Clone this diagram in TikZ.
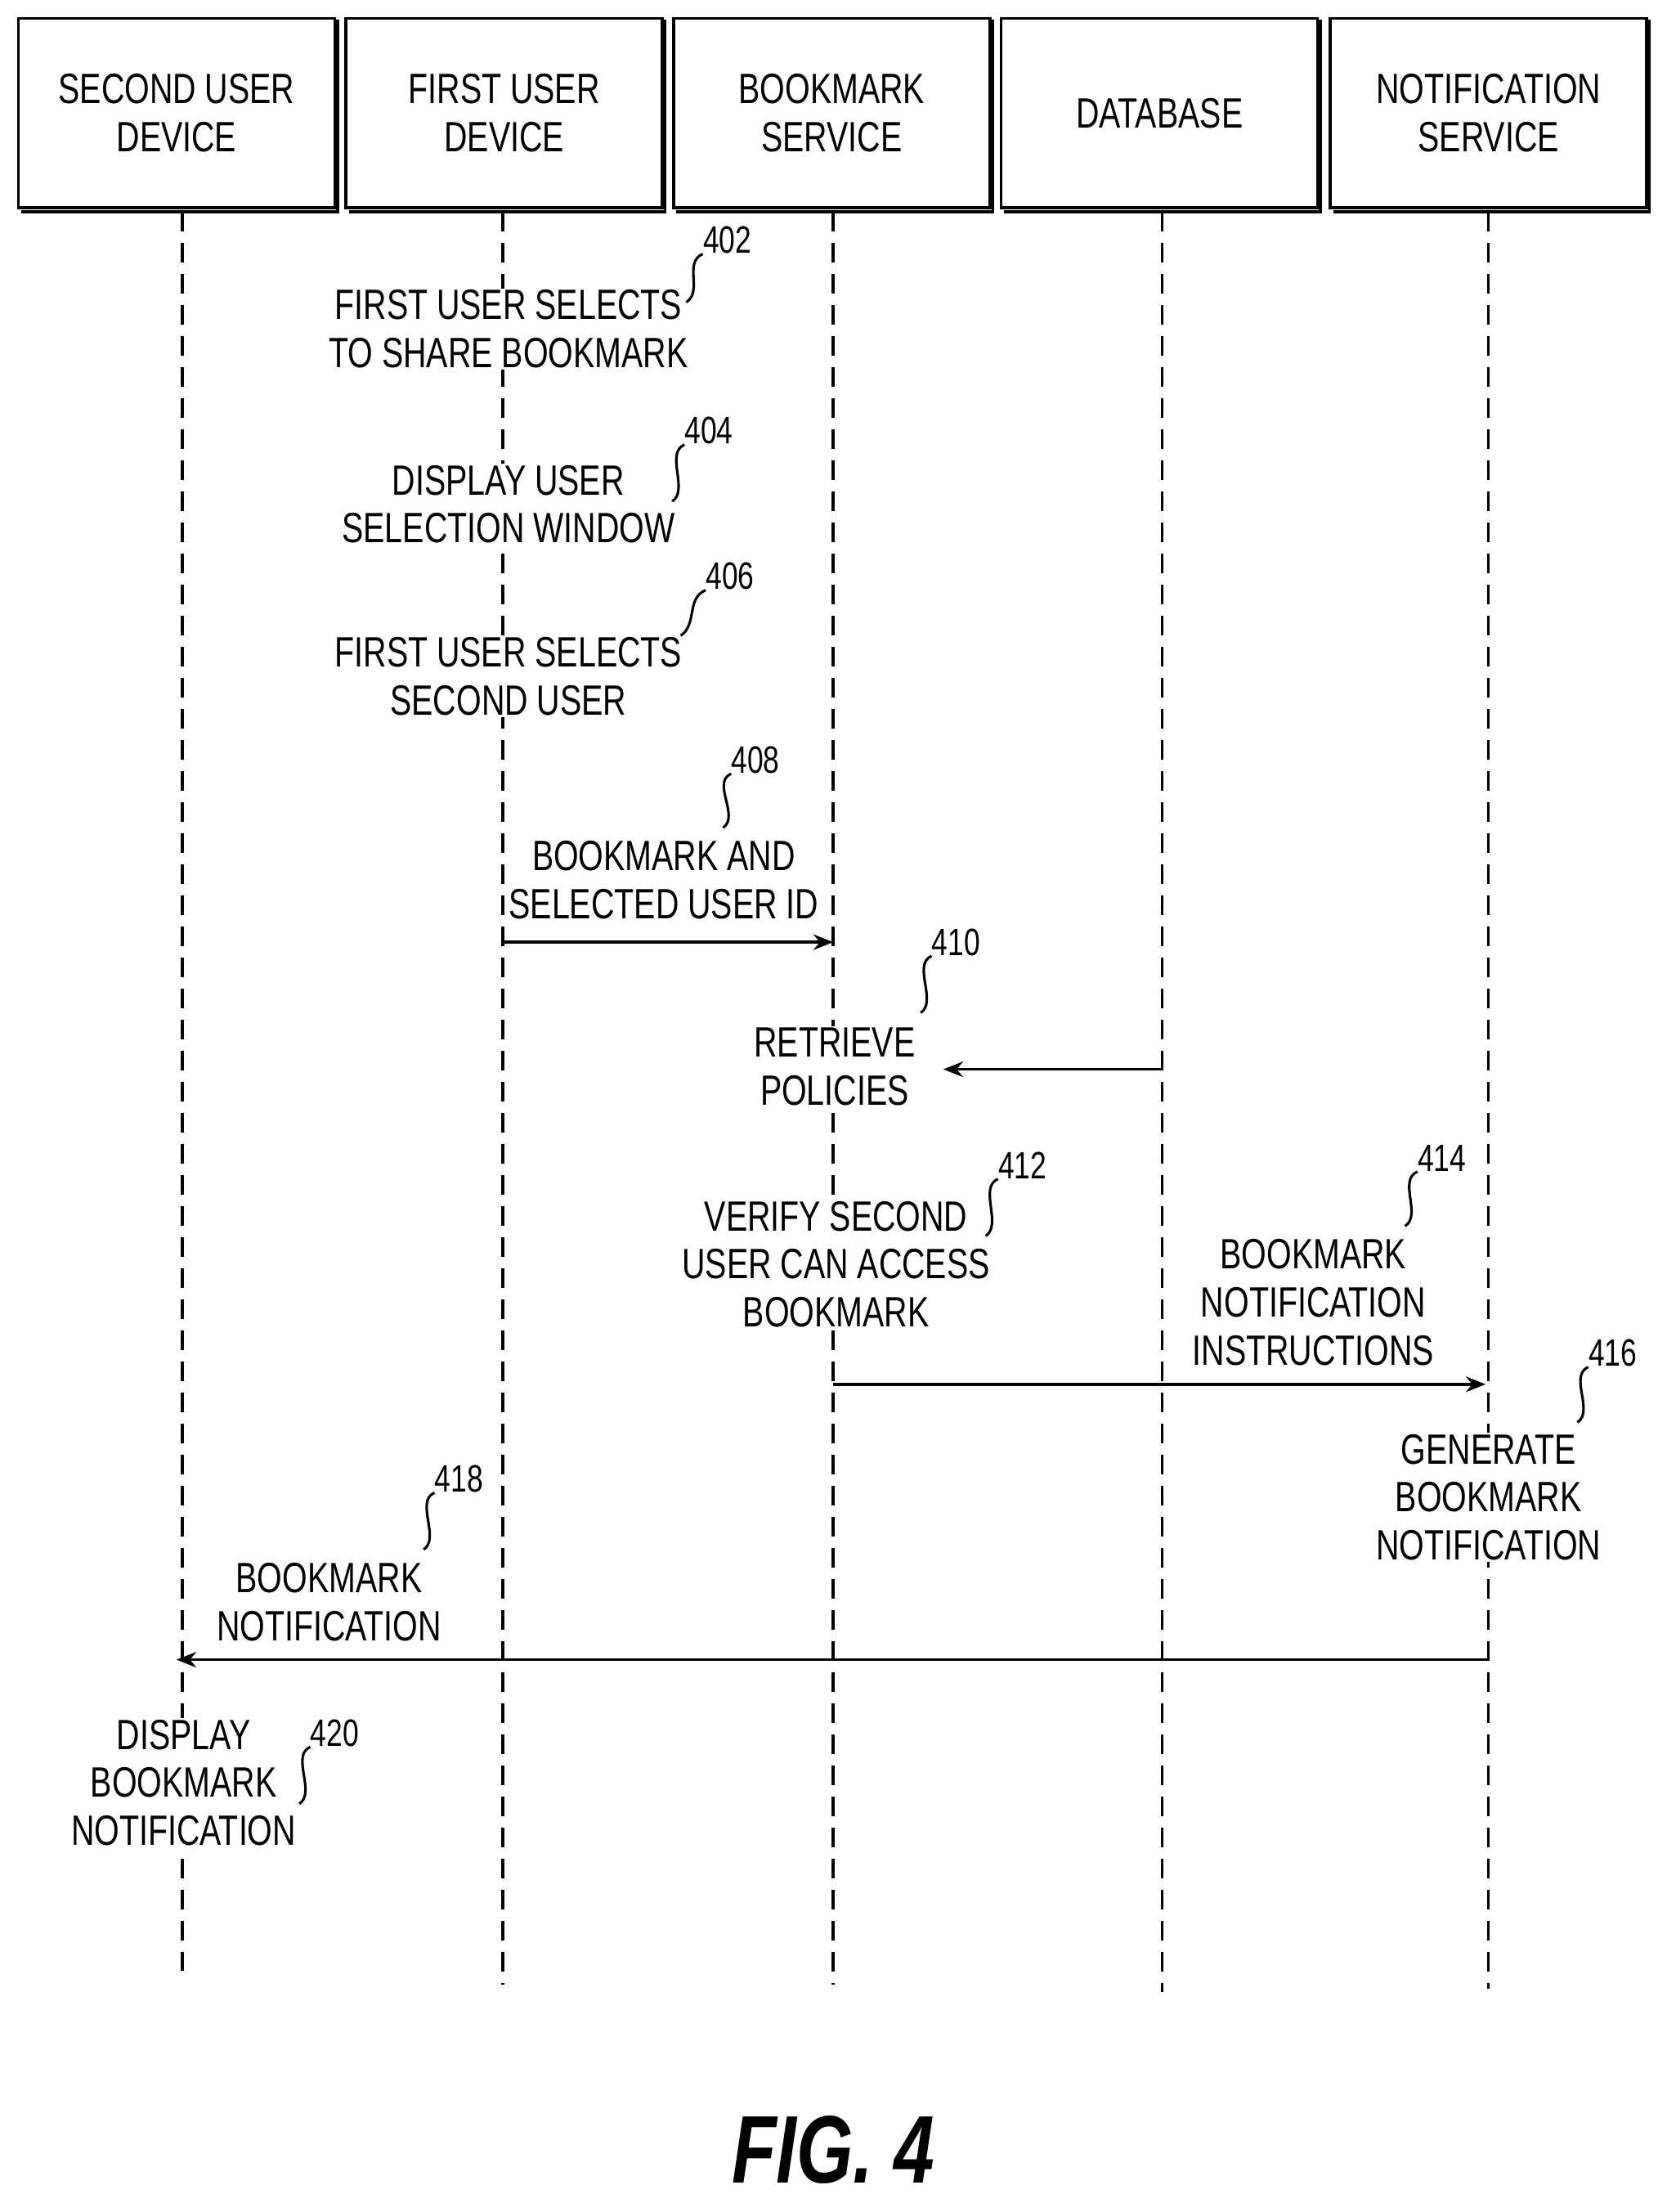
\documentclass[tikz,border=0pt]{standalone}
\usepackage{fontspec}
\setmainfont[FakeStretch=0.76]{Liberation Sans}
\usetikzlibrary{arrows.meta}
\begin{document}
\begin{tikzpicture}[x=1pt,y=-1pt,
  hdr/.style={draw,line width=2pt,minimum width=224pt,minimum height=134pt,align=center,font=\fontsize{30}{34}\selectfont,inner sep=0},
  lbl/.style={align=center,font=\fontsize{30}{34}\selectfont,inner sep=1pt,fill=white},
  num/.style={font=\fontsize{27}{30}\selectfont,inner sep=0},
  sq/.style={line width=1.8pt},
  life/.style={line width=2pt,dash pattern=on 14pt off 8pt},
  msg/.style={line width=2pt,-{Stealth[length=14pt,width=11pt]}}]
\useasboundingbox (0,0) rectangle (1180,1566);
\foreach \n/\x/\t in {a/125/{SECOND USER\\DEVICE},b/357/{FIRST USER\\DEVICE},c/589/{BOOKMARK\\SERVICE},d/821/{DATABASE},e/1054/{NOTIFICATION\\SERVICE}}{
  \draw[line width=2pt] (\x-110,150) -- (\x+114,150) -- (\x+114,14);
  \node[hdr] (\n) at (\x,80) {\t};
}
\coordinate (la) at (129,1395); \coordinate (lb) at (356,1405);
\coordinate (lc) at (590,1405); \coordinate (ld) at (823,1410);
\coordinate (le) at (1054,1408);
\foreach \n/\x in {a/129,b/356,c/590,d/823,e/1054}
  \draw[life] (\x,150) -- (l\n);
\node[lbl] (t402) at (360,233) {FIRST USER SELECTS\\TO SHARE BOOKMARK};
\node[num] (n402) at (515,170) {402};
\draw[sq] (n402.south west) .. controls +(-14,6) and +(12,-8) .. (486,214);
\node[lbl] (t404) at (360,357) {DISPLAY USER\\SELECTION WINDOW};
\node[num] (n404) at (502,305) {404};
\draw[sq] (n404.south west) .. controls +(-14,6) and +(12,-8) .. (476,355);
\node[lbl] (t406) at (360,479) {FIRST USER SELECTS\\SECOND USER};
\node[num] (n406) at (517,408) {406};
\draw[sq] (n406.south west) .. controls +(-14,6) and +(12,-8) .. (482,450);
\node[lbl] (t408) at (470,623) {BOOKMARK AND\\SELECTED USER ID};
\node[num] (n408) at (535,538) {408};
\draw[sq] (n408.south west) .. controls +(-14,6) and +(12,-8) .. (512,586);
\draw[msg] (356,667) -- (590,667);
\node[lbl] (t410) at (591,755) {RETRIEVE\\POLICIES};
\node[num] (n410) at (677,667) {410};
\draw[sq] (n410.south west) .. controls +(-14,6) and +(12,-8) .. (652,717);
\coordinate (d410) at (823,757);
\draw[msg] (d410) -- (668,757);
\node[lbl] (t412) at (592,895) {VERIFY SECOND\\USER CAN ACCESS\\BOOKMARK};
\node[num] (n412) at (724,825) {412};
\draw[sq] (n412.south west) .. controls +(-14,6) and +(12,-8) .. (698,875);
\node[lbl] (t414) at (930,922) {BOOKMARK\\NOTIFICATION\\INSTRUCTIONS};
\node[num] (n414) at (1021,820) {414};
\draw[sq] (n414.south west) .. controls +(-14,6) and +(12,-8) .. (995,868);
\draw[msg] (590,980) -- (1052,980);
\node[lbl] (t416) at (1054,1060) {GENERATE\\BOOKMARK\\NOTIFICATION};
\node[num] (n416) at (1142,958) {416};
\draw[sq] (n416.south west) .. controls +(-14,6) and +(12,-8) .. (1117,1007);
\node[lbl] (t418) at (233,1134) {BOOKMARK\\NOTIFICATION};
\node[num] (n418) at (325,1047) {418};
\draw[sq] (n418.south west) .. controls +(-14,6) and +(12,-8) .. (300,1097);
\draw[msg] (1054,1175) -- (125,1175);
\node[lbl] (t420) at (130,1262) {DISPLAY\\BOOKMARK\\NOTIFICATION};
\node[num] (n420) at (237,1227) {420};
\draw[sq] (n420.south west) .. controls +(-14,6) and +(12,-8) .. (212,1277);
\node[font=\fontsize{68}{76}\selectfont\bfseries\itshape] (fig) at (590,1522) {FIG. 4};
\end{tikzpicture}
\end{document}
